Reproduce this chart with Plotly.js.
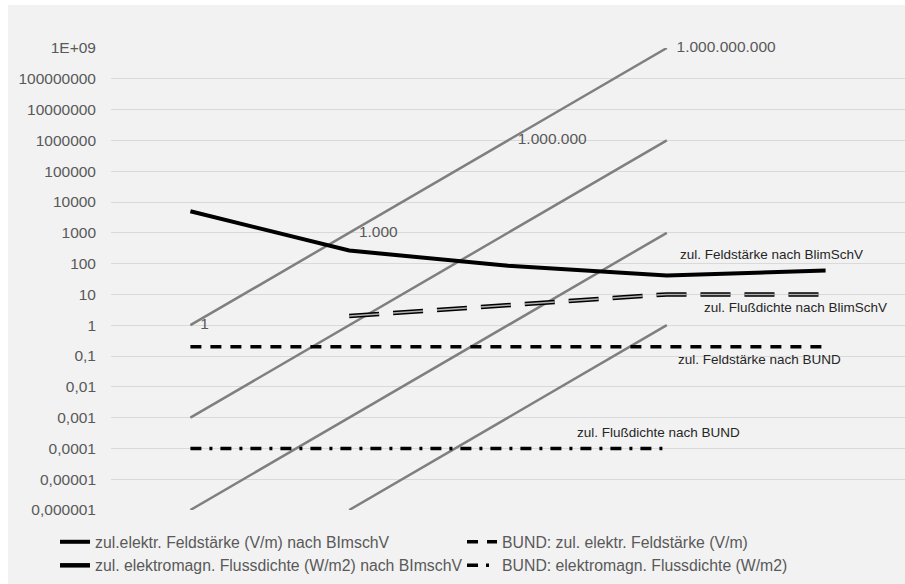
<!DOCTYPE html>
<html>
<head>
<meta charset="utf-8">
<script src="https://cdn.plot.ly/plotly-3.0.1.min.js"></script>
<style>
html,body{margin:0;padding:0;background:#ffffff;}
#chart{position:absolute;left:8px;top:5px;width:897px;height:579px;}
</style>
</head>
<body>
<div id="chart"></div>
<script>
// ---- data ----
const categories = ['f1', 'f2', 'f3', 'f4', 'f5'];
const feldBImSchV = [5000, 265, 85, 41, 60];
const flussBImSchV = [null, 2, 4.5, 10, 10];
const bundFeld = [0.2, 0.2, 0.2, 0.2, 0.2];
const bundFluss = [0.0001, 0.0001, 0.0001, 0.0001, null];
const ref1 = [1, 1000, 1000000, 1000000000, null];
const ref2 = [0.001, 1, 1000, 1000000, null];
const ref3 = [0.000001, 0.001, 1, 1000, null];
const ref4 = [null, 0.000001, 0.001, 1, null];
const ref1Labels = ['1', '1.000', '1.000.000', '1.000.000.000', ''];
const yTickVals = [1e9, 1e8, 1e7, 1e6, 1e5, 1e4, 1e3, 100, 10, 1, 0.1, 0.01, 0.001, 0.0001, 0.00001, 0.000001];
const yTickText = ['1E+09', '100000000', '10000000', '1000000', '100000', '10000', '1000', '100', '10', '1', '0,1', '0,01', '0,001', '0,0001', '0,00001', '0,000001'];
const seriesNames = [
  'zul.elektr. Feldstärke (V/m) nach BImschV',
  'BUND: zul. elektr. Feldstärke (V/m)',
  'zul. elektromagn. Flussdichte (W/m2) nach BImschV',
  'BUND: elektromagn. Flussdichte (W/m2)'
];
const noteTexts = ['zul. Feldstärke nach BlimSchV', 'zul. Flußdichte nach BlimSchV', 'zul. Feldstärke nach BUND', 'zul. Flußdichte nach BUND'];

// ---- styles ----
const FONT = 'Liberation Sans, Arial, sans-serif';
const grayLine = {color: '#7f7f7f', width: 2.5};

const traces = [];
[ref1, ref2, ref3, ref4].forEach((r, i) => {
  const t = {x: categories, y: r, type: 'scatter', mode: 'lines', line: grayLine, showlegend: false, hoverinfo: 'skip'};
  if (i === 0) {
    t.mode = 'lines+markers+text';
    t.marker = {size: 14, color: 'rgba(0,0,0,0)'};
    t.text = ref1Labels;
    t.textposition = 'middle right';
    t.cliponaxis = false;
    t.textfont = {family: FONT, size: 15.5, color: '#595959'};
  }
  traces.push(t);
});
traces.push({x: categories, y: feldBImSchV, name: seriesNames[0], type: 'scatter', mode: 'lines',
  line: {color: '#000000', width: 4}});
traces.push({x: categories, y: bundFeld, name: seriesNames[1], type: 'scatter', mode: 'lines',
  line: {color: '#000000', width: 3.5, dash: '11px,9px'}});
traces.push({x: categories, y: flussBImSchV, name: seriesNames[2], type: 'scatter', mode: 'lines',
  line: {color: '#000000', width: 4.5, dash: '30px,14px'}});
traces.push({x: categories, y: bundFluss, name: seriesNames[3], type: 'scatter', mode: 'lines',
  line: {color: '#000000', width: 3.5, dash: '11px,8px,3px,8px'}});
traces.push({x: categories, y: flussBImSchV, type: 'scatter', mode: 'lines', showlegend: false, hoverinfo: 'skip',
  line: {color: '#b0b0b0', width: 1.5, dash: '30px,14px'}});

const noteStyle = {family: FONT, size: 13.5, color: '#262626'};
const annotations = [
  {x: 3.068, y: 2.31, text: noteTexts[0]},
  {x: 3.219, y: 0.56, text: noteTexts[1]},
  {x: 3.055, y: -1.10, text: noteTexts[2]},
  {x: 2.419, y: -3.47, text: noteTexts[3]}
].map(a => Object.assign(a, {xref: 'x', yref: 'y', xanchor: 'left', yanchor: 'middle', showarrow: false, font: noteStyle}));

const layout = {
  width: 897, height: 579,
  margin: {l: 103, r: 0, t: 43, b: 74, autoexpand: false},
  paper_bgcolor: '#f2f2f2', plot_bgcolor: '#f2f2f2',
  font: {family: FONT, color: '#595959'},
  xaxis: {type: 'category', range: [-0.5, 4.5], showticklabels: false, showgrid: false, zeroline: false, showline: false, ticks: '', automargin: false},
  yaxis: {type: 'log', range: [-6, 9], tickvals: yTickVals, ticktext: yTickText, showgrid: true, gridcolor: '#d9d9d9', gridwidth: 1,
    zeroline: false, showline: false, ticks: '', ticklabelstandoff: 14, automargin: false, tickfont: {family: FONT, size: 15.5, color: '#595959'}},
  showlegend: true,
  legend: {orientation: 'h', x: -0.0705, xanchor: 'left', y: -0.0325, yanchor: 'top',
    entrywidth: 362, entrywidthmode: 'pixels',
    font: {family: FONT, size: 15.8, color: '#595959'}, bgcolor: 'rgba(0,0,0,0)', traceorder: 'normal'},
  annotations: annotations
};

Plotly.newPlot('chart', traces, layout, {displayModeBar: false, staticPlot: true});
</script>
</body>
</html>
